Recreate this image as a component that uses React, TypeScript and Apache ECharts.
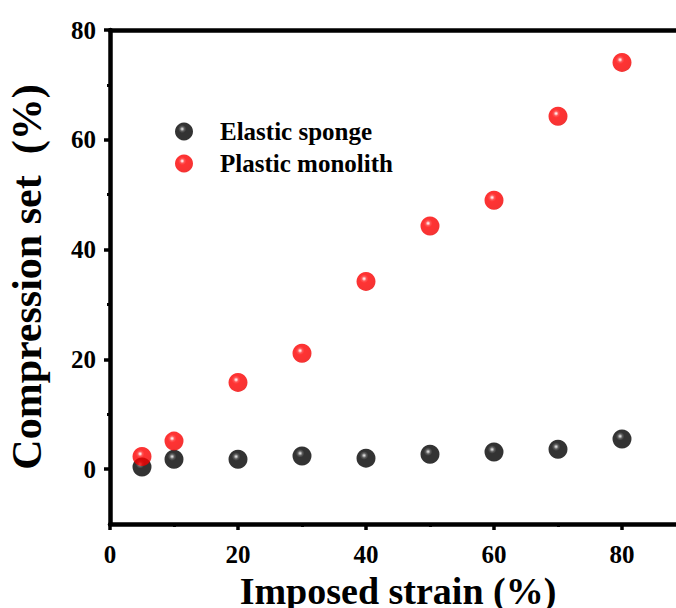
import React, { useEffect, useRef } from "react";
import * as echarts from "echarts";

// Imposed strain (%) at which each sample was compressed
const strain = [5, 10, 20, 30, 40, 50, 60, 70, 80];
// Residual compression set (%) after release
const elasticSponge = [0.4, 1.8, 1.8, 2.4, 2.0, 2.7, 3.1, 3.6, 5.5];
const plasticMonolith = [2.3, 5.1, 15.8, 21.1, 34.2, 44.3, 49.0, 64.3, 74.1];

const xMajorTicks = [0, 20, 40, 60, 80];
const xMinorTicks = [10, 30, 50, 70];
const yMajorTicks = [0, 20, 40, 60, 80];
const yMinorTicks = [10, 30, 50, 70];

const FONT = '"Liberation Serif", "Times New Roman", serif';
const AXIS_W = 4.5;

function sphere(stops: [number, string][]) {
  return new echarts.graphic.RadialGradient(
    0.4,
    0.36,
    0.7,
    stops.map(([offset, color]) => ({ offset, color }))
  );
}

const redBall = sphere([
  [0, "#ffffff"],
  [0.06, "#ffcaca"],
  [0.18, "#ff2a2a"],
  [0.32, "#ff0000"],
  [0.88, "#f40000"],
  [1, "#d20000"],
]);
const blackBall = sphere([
  [0, "#ececec"],
  [0.07, "#a8a8a8"],
  [0.18, "#333333"],
  [0.32, "#000000"],
  [1, "#000000"],
]);

export default function App() {
  const ref = useRef<HTMLDivElement>(null);

  useEffect(() => {
    if (!ref.current) return;
    const chart = echarts.init(ref.current, undefined, { renderer: "svg" });

    const axisLine = { show: true, onZero: false, lineStyle: { color: "#000", width: AXIS_W } };
    const hiddenLine = { show: false, onZero: false };
    const tickLabel = {
      color: "#000",
      fontFamily: FONT,
      fontWeight: "bold" as const,
      fontSize: 25,
    };

    chart.setOption({
      animation: false,
      backgroundColor: "#fff",
      grid: {
        left: 110,
        top: 30,
        right: -10,
        bottom: 84,
        containLabel: false,
        outerBoundsMode: "none",
      },
      legend: {
        orient: "vertical",
        left: 170,
        top: 114,
        itemWidth: 62,
        itemHeight: 18,
        itemGap: 7,
        symbolKeepAspect: true,
        textStyle: {
          color: "#000",
          fontFamily: FONT,
          fontWeight: "bold",
          fontSize: 25,
        },
        data: ["Elastic sponge", "Plastic monolith"],
      },
      xAxis: [
        {
          type: "value",
          position: "bottom",
          min: 0,
          max: 90,
          interval: 10,
          axisLine,
          axisTick: { show: true, customValues: xMajorTicks, length: 6, lineStyle: { color: "#000", width: 3.5 } },
          axisLabel: { ...tickLabel, customValues: xMajorTicks, margin: 18 },
          splitLine: { show: false },
          name: "Imposed strain (%)",
          nameLocation: "middle",
          nameGap: 44,
          nameTextStyle: { color: "#000", fontFamily: FONT, fontWeight: "bold", fontSize: 38 },
        },
        {
          type: "value",
          position: "bottom",
          min: 0,
          max: 90,
          interval: 10,
          axisLine: hiddenLine,
          axisTick: { show: true, customValues: xMinorTicks, length: 3, lineStyle: { color: "#000", width: 3 } },
          axisLabel: { show: false },
          splitLine: { show: false },
        },
        {
          type: "value",
          position: "top",
          min: 0,
          max: 90,
          interval: 10,
          axisLine,
          axisTick: { show: false },
          axisLabel: { show: false },
          splitLine: { show: false },
        },
      ],
      yAxis: [
        {
          type: "value",
          position: "left",
          min: -10,
          max: 80,
          interval: 10,
          axisLine,
          axisTick: { show: true, customValues: yMajorTicks, length: 6, lineStyle: { color: "#000", width: 3.5 } },
          axisLabel: { ...tickLabel, customValues: yMajorTicks, margin: 14 },
          splitLine: { show: false },
          name: "Compression set  (%)",
          nameLocation: "middle",
          nameGap: 62,
          nameTextStyle: { color: "#000", fontFamily: FONT, fontWeight: "bold", fontSize: 42 },
        },
        {
          type: "value",
          position: "left",
          min: -10,
          max: 80,
          interval: 10,
          axisLine: hiddenLine,
          axisTick: { show: true, customValues: yMinorTicks, length: 3, lineStyle: { color: "#000", width: 3 } },
          axisLabel: { show: false },
          splitLine: { show: false },
        },
      ],
      series: [
        {
          name: "Elastic sponge",
          type: "scatter",
          symbol: "circle",
          symbolSize: 19,
          itemStyle: { color: blackBall },
          data: strain.map((x, i) => [x, elasticSponge[i]]),
          z: 2,
        },
        {
          name: "Plastic monolith",
          type: "scatter",
          symbol: "circle",
          symbolSize: 19,
          itemStyle: { color: redBall },
          data: strain.map((x, i) => [x, plasticMonolith[i]]),
          z: 3,
        },
      ],
    });

    return () => chart.dispose();
  }, []);

  return (
    <div
      ref={ref}
      style={{ position: "fixed", left: 0, top: 0, width: 676, height: 608, background: "#fff" }}
    />
  );
}
